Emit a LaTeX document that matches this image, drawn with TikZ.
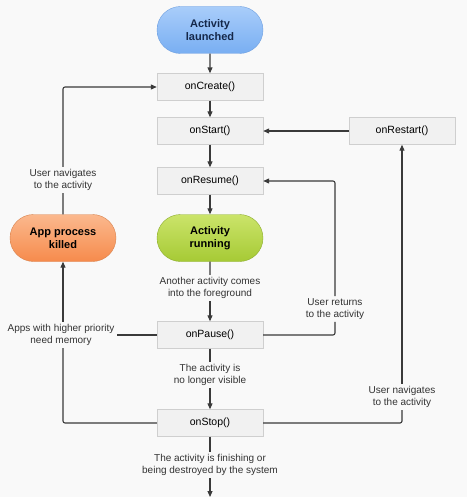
\documentclass[tikz,border=0pt]{standalone}
\usepackage{fontspec}
\setmainfont{Liberation Sans}
\usetikzlibrary{arrows.meta,shapes.misc}
\definecolor{bg}{HTML}{F9F9F9}
\definecolor{ln}{HTML}{3A3A3A}
\definecolor{boxfill}{HTML}{F1F1F1}
\definecolor{boxdraw}{HTML}{CFCFCF}
\definecolor{bluetop}{HTML}{A9CDFA}
\definecolor{bluebot}{HTML}{78AEF2}
\definecolor{bluedraw}{HTML}{6E9FE0}
\definecolor{bluetext}{HTML}{15284A}
\definecolor{greentop}{HTML}{CBE46A}
\definecolor{greenbot}{HTML}{A6CA35}
\definecolor{greendraw}{HTML}{8DAD2E}
\definecolor{orangetop}{HTML}{FBB98E}
\definecolor{orangebot}{HTML}{F68A4C}
\definecolor{orangedraw}{HTML}{D8834E}
\begin{document}
\begin{tikzpicture}[x=1pt,y=-1pt,
  cb/.style={draw=boxdraw,fill=boxfill,minimum width=106pt,minimum height=27pt,inner sep=0pt,font=\fontsize{10.5}{12}\selectfont},
  pill/.style={rounded rectangle,minimum width=106pt,minimum height=47pt,inner sep=0pt,align=center,font=\fontsize{11}{13}\selectfont\bfseries},
  lbl/.style={fill=bg,align=center,inner sep=2pt,font=\fontsize{10}{12.5}\selectfont,text=black!80},
  ar/.style={draw=ln,line width=1.1pt,-{Triangle[length=6pt,width=5pt]}},
  pl/.style={draw=ln,line width=1.1pt},
]
\fill[bg] (0,0) rectangle (467,497);
\useasboundingbox (0,0) rectangle (467,497);

\node[pill,draw=bluedraw,top color=bluetop,bottom color=bluebot,text=bluetext] (launch) at (210,30) {Activity\\launched};
\node[cb] (create) at (210,87) {onCreate()};
\node[cb] (start) at (210,131) {onStart()};
\node[cb] (restart) at (402,131) {onRestart()};
\node[cb] (resume) at (210,181) {onResume()};
\node[pill,draw=greendraw,top color=greentop,bottom color=greenbot,text=black] (running) at (210,238) {Activity\\running};
\node[pill,draw=orangedraw,top color=orangetop,bottom color=orangebot,text=black] (killed) at (63,238) {App process\\killed};
\node[cb] (pause) at (210,335) {onPause()};
\node[cb] (stop) at (210,423) {onStop()};

\node[lbl] (l1) at (210,288) {Another activity comes\\into the foreground};
\node[lbl] (l2) at (210,375) {The activity is\\no longer visible};
\node[lbl] (l3) at (210,465) {The activity is finishing or\\being destroyed by the system};
\coordinate (end) at (210,497);

\draw[ar] (launch) -- (create);
\draw[ar] (create) -- (start);
\draw[ar] (start) -- (resume);
\draw[ar] (resume) -- (running);
\draw[pl] (running) -- (l1);
\draw[ar] (l1) -- (pause);
\draw[pl] (pause) -- (l2);
\draw[ar] (l2) -- (stop);
\draw[pl] (stop) -- (l3);
\draw[ar] (l3) -- (end);
\draw[ar] (restart) -- (start);

% left loop
\node[lbl] (l4) at (61,335) {Apps with higher priority\\need memory};
\coordinate (lc1) at (63,423);
\draw[pl,rounded corners=2pt] (stop.west) -- (lc1) -- (l4.south -| lc1);
\draw[pl] (pause.west) -- (l4.east);
\draw[ar] (l4.north -| lc1) -- (killed.south);
\node[lbl] (l5) at (63,180) {User navigates\\to the activity};
\coordinate (lc3) at (63,87);
\draw[pl] (killed) -- (l5);
\draw[ar,rounded corners=2pt] (l5.north) -- (lc3) -- (create.west);

% right loops
\node[lbl] (l6) at (335,309) {User returns\\to the activity};
\coordinate (rc1) at (335,335);
\coordinate (rc2) at (335,181);
\draw[pl,rounded corners=2pt] (pause.east) -- (rc1) -- (l6.south);
\draw[ar,rounded corners=2pt] (l6.north) -- (rc2) -- (resume.east);

\node[lbl] (l7) at (402,397) {User navigates\\to the activity};
\coordinate (rc3) at (402,423);
\draw[pl,rounded corners=2pt] (stop.east) -- (rc3) -- (l7.south);
\draw[ar] (l7.north) -- (restart.south);
\end{tikzpicture}
\end{document}
